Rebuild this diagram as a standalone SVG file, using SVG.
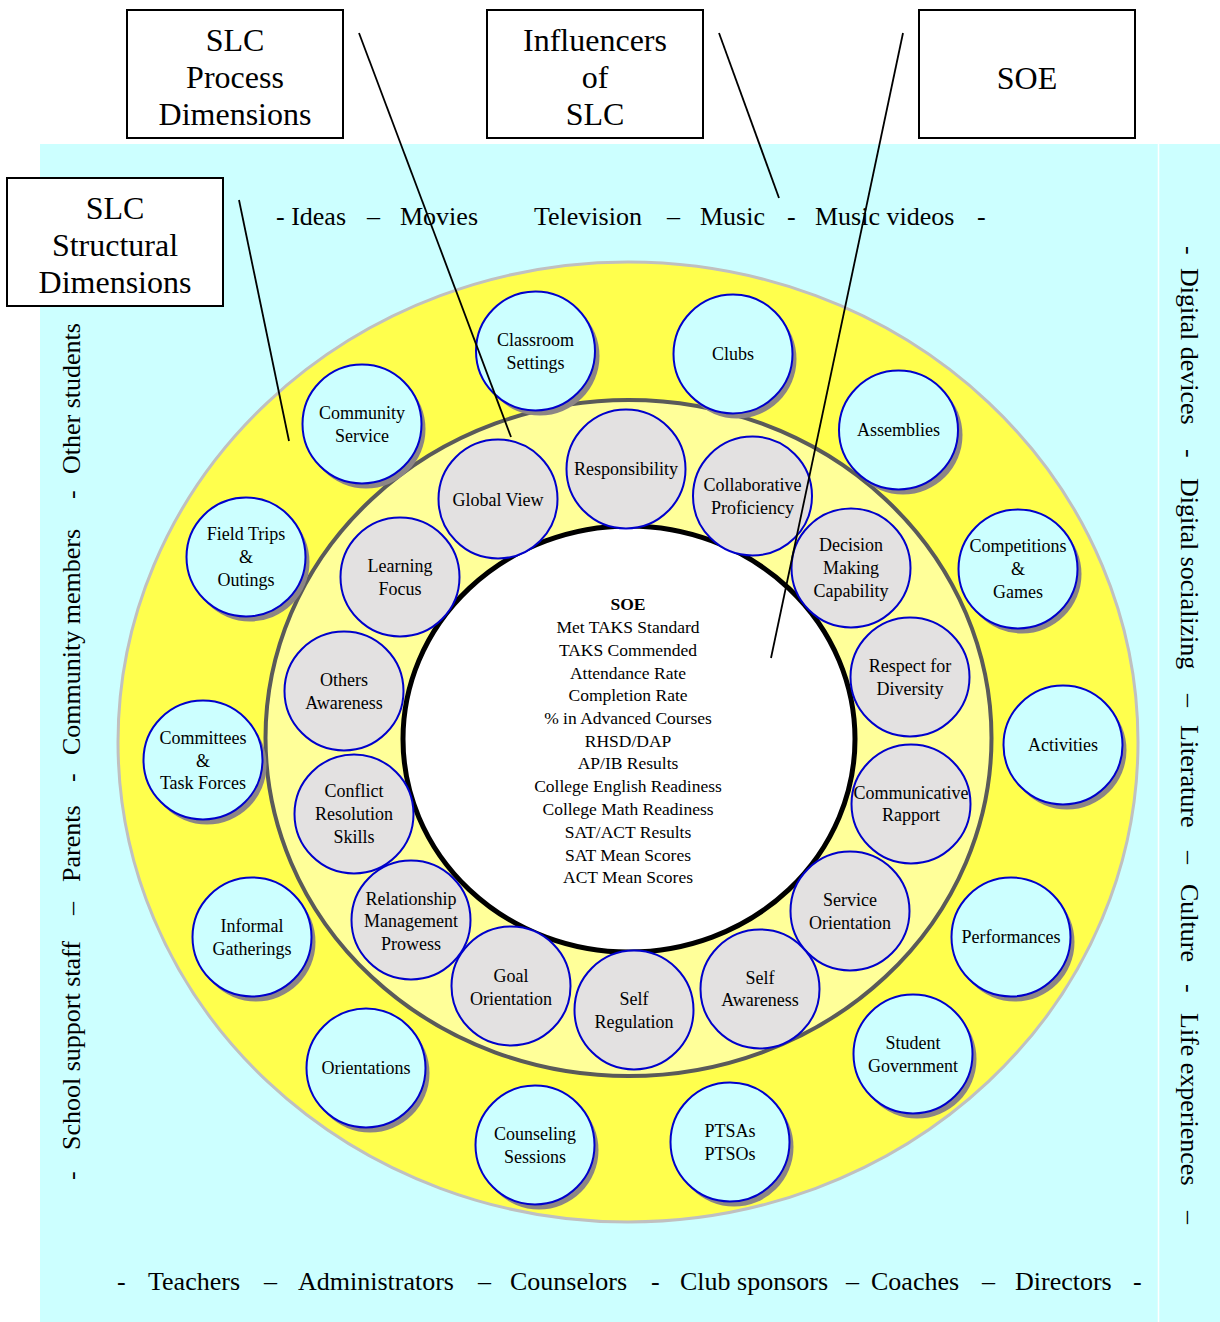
<svg xmlns="http://www.w3.org/2000/svg" width="1220" height="1322" viewBox="0 0 1220 1322" font-family="'Liberation Serif', 'Times New Roman', Times, serif">
<style>
text{font-family:'Liberation Serif','Times New Roman',Times,serif;fill:#000}
.big{font-size:26px}
.box{fill:#fff;stroke:#000;stroke-width:2}
.bt{font-size:32px;text-anchor:middle}
.oc{fill:#ccffff;stroke:#0000cc;stroke-width:2}
.ic{fill:#e3e1e1;stroke:#0000cc;stroke-width:2}
.sh{fill:#8c8585}
.ct{font-size:18px;text-anchor:middle}
.soe{font-size:17.5px;text-anchor:middle}
.conn{stroke:#000;stroke-width:1.8;fill:none}
</style>
<rect x="0" y="0" width="1220" height="1322" fill="#fff"/>
<rect x="40" y="144" width="1180" height="1178" fill="#ccffff"/>
<line x1="1158.5" y1="144" x2="1158.5" y2="1322" stroke="#fff" stroke-width="1.5"/>

<g id="rings">
<ellipse cx="628" cy="742" rx="510" ry="480" fill="#ffff4d" stroke="#c0c0c0" stroke-width="3"/>
<ellipse cx="628.5" cy="738" rx="363" ry="338" fill="#ffff99" stroke="#5a5a5a" stroke-width="4"/>
<ellipse cx="629" cy="739" rx="226" ry="213" fill="#fff" stroke="#000" stroke-width="5"/>
</g>

<g id="labels-influencers">
<text class="big" y="225"><tspan x="276">- Ideas</tspan><tspan x="367">–</tspan><tspan x="400">Movies</tspan><tspan x="534">Television</tspan><tspan x="667">–</tspan><tspan x="700">Music</tspan><tspan x="787">-</tspan><tspan x="815">Music videos</tspan><tspan x="977">-</tspan></text>
<text class="big" y="1290"><tspan x="117">-</tspan><tspan x="148">Teachers</tspan><tspan x="264">–</tspan><tspan x="298">Administrators</tspan><tspan x="478">–</tspan><tspan x="510">Counselors</tspan><tspan x="651">-</tspan><tspan x="680">Club sponsors</tspan><tspan x="846">–</tspan><tspan x="871">Coaches</tspan><tspan x="982">–</tspan><tspan x="1015">Directors</tspan><tspan x="1133">-</tspan></text>
<text class="big" transform="rotate(-90)" y="80"><tspan x="-1180">-</tspan><tspan x="-1150">School support staff</tspan><tspan x="-915">–</tspan><tspan x="-882">Parents</tspan><tspan x="-782">-</tspan><tspan x="-755">Community members</tspan><tspan x="-499">-</tspan><tspan x="-474">Other students</tspan></text>
<text class="big" transform="rotate(90)" y="-1181"><tspan x="246">-</tspan><tspan x="268">Digital devices</tspan><tspan x="449">-</tspan><tspan x="478">Digital socializing</tspan><tspan x="694">–</tspan><tspan x="725">Literature</tspan><tspan x="851">–</tspan><tspan x="884">Culture</tspan><tspan x="984">-</tspan><tspan x="1013">Life experiences</tspan><tspan x="1211">–</tspan></text>
</g>

<g id="structural-nodes">
<g id="n-classroom"><circle class="sh" cx="540" cy="356" r="59.5"/><circle class="oc" cx="535.5" cy="351" r="59.5"/><text class="ct"><tspan x="535.5" y="346">Classroom</tspan><tspan x="535.5" y="369">Settings</tspan></text></g>
<g id="n-clubs"><circle class="sh" cx="737" cy="359" r="59.5"/><circle class="oc" cx="733" cy="354" r="59.5"/><text class="ct" x="733" y="360">Clubs</text></g>
<g id="n-assemblies"><circle class="sh" cx="903" cy="435" r="59.5"/><circle class="oc" cx="898.5" cy="430" r="59.5"/><text class="ct" x="898.5" y="436">Assemblies</text></g>
<g id="n-competitions"><circle class="sh" cx="1022" cy="574" r="59.5"/><circle class="oc" cx="1018" cy="569" r="59.5"/><text class="ct"><tspan x="1018" y="552">Competitions</tspan><tspan x="1018" y="575">&amp;</tspan><tspan x="1018" y="598">Games</tspan></text></g>
<g id="n-activities"><circle class="sh" cx="1067" cy="750" r="59.5"/><circle class="oc" cx="1063" cy="745" r="59.5"/><text class="ct" x="1063" y="751">Activities</text></g>
<g id="n-performances"><circle class="sh" cx="1015" cy="942" r="59.5"/><circle class="oc" cx="1011" cy="937" r="59.5"/><text class="ct" x="1011" y="943">Performances</text></g>
<g id="n-studentgov"><circle class="sh" cx="917" cy="1059" r="59.5"/><circle class="oc" cx="913" cy="1054" r="59.5"/><text class="ct"><tspan x="913" y="1049">Student</tspan><tspan x="913" y="1072">Government</tspan></text></g>
<g id="n-ptsas"><circle class="sh" cx="734" cy="1147" r="59.5"/><circle class="oc" cx="730" cy="1142" r="59.5"/><text class="ct"><tspan x="730" y="1137">PTSAs</tspan><tspan x="730" y="1160">PTSOs</tspan></text></g>
<g id="n-counseling"><circle class="sh" cx="539" cy="1150" r="59.5"/><circle class="oc" cx="535" cy="1145" r="59.5"/><text class="ct"><tspan x="535" y="1140">Counseling</tspan><tspan x="535" y="1163">Sessions</tspan></text></g>
<g id="n-orientations"><circle class="sh" cx="370" cy="1073" r="59.5"/><circle class="oc" cx="366" cy="1068" r="59.5"/><text class="ct" x="366" y="1074">Orientations</text></g>
<g id="n-informal"><circle class="sh" cx="256" cy="942" r="59.5"/><circle class="oc" cx="252" cy="937" r="59.5"/><text class="ct"><tspan x="252" y="932">Informal</tspan><tspan x="252" y="955">Gatherings</tspan></text></g>
<g id="n-committees"><circle class="sh" cx="207" cy="765" r="59.5"/><circle class="oc" cx="203" cy="760" r="59.5"/><text class="ct"><tspan x="203" y="744">Committees</tspan><tspan x="203" y="767">&amp;</tspan><tspan x="203" y="789">Task Forces</tspan></text></g>
<g id="n-fieldtrips"><circle class="sh" cx="250" cy="562" r="59.5"/><circle class="oc" cx="246" cy="557" r="59.5"/><text class="ct"><tspan x="246" y="540">Field Trips</tspan><tspan x="246" y="563">&amp;</tspan><tspan x="246" y="586">Outings</tspan></text></g>
<g id="n-community"><circle class="sh" cx="366" cy="429" r="59.5"/><circle class="oc" cx="362" cy="424" r="59.5"/><text class="ct"><tspan x="362" y="419">Community</tspan><tspan x="362" y="442">Service</tspan></text></g>
</g>

<g id="process-nodes">
<g id="n-responsibility"><circle class="ic" cx="626" cy="469" r="59.5"/><text class="ct" x="626" y="475">Responsibility</text></g>
<g id="n-collaborative"><circle class="ic" cx="752.5" cy="496" r="59.5"/><text class="ct"><tspan x="752.5" y="491">Collaborative</tspan><tspan x="752.5" y="514">Proficiency</tspan></text></g>
<g id="n-decision"><circle class="ic" cx="851" cy="568" r="59.5"/><text class="ct"><tspan x="851" y="551">Decision</tspan><tspan x="851" y="574">Making</tspan><tspan x="851" y="597">Capability</tspan></text></g>
<g id="n-respect"><circle class="ic" cx="910" cy="677" r="59.5"/><text class="ct"><tspan x="910" y="672">Respect for</tspan><tspan x="910" y="695">Diversity</tspan></text></g>
<g id="n-communicative"><circle class="ic" cx="911" cy="804" r="59.5"/><text class="ct"><tspan x="911" y="799">Communicative</tspan><tspan x="911" y="821">Rapport</tspan></text></g>
<g id="n-service"><circle class="ic" cx="850" cy="911" r="59.5"/><text class="ct"><tspan x="850" y="906">Service</tspan><tspan x="850" y="929">Orientation</tspan></text></g>
<g id="n-selfaware"><circle class="ic" cx="760" cy="989" r="59.5"/><text class="ct"><tspan x="760" y="984">Self</tspan><tspan x="760" y="1006">Awareness</tspan></text></g>
<g id="n-selfreg"><circle class="ic" cx="634" cy="1010" r="59.5"/><text class="ct"><tspan x="634" y="1005">Self</tspan><tspan x="634" y="1028">Regulation</tspan></text></g>
<g id="n-goal"><circle class="ic" cx="511" cy="986" r="59.5"/><text class="ct"><tspan x="511" y="982">Goal</tspan><tspan x="511" y="1005">Orientation</tspan></text></g>
<g id="n-relationship"><circle class="ic" cx="411" cy="920" r="59.5"/><text class="ct"><tspan x="411" y="905">Relationship</tspan><tspan x="411" y="927">Management</tspan><tspan x="411" y="950">Prowess</tspan></text></g>
<g id="n-conflict"><circle class="ic" cx="354" cy="814" r="59.5"/><text class="ct"><tspan x="354" y="797">Conflict</tspan><tspan x="354" y="820">Resolution</tspan><tspan x="354" y="843">Skills</tspan></text></g>
<g id="n-others"><circle class="ic" cx="344" cy="691" r="59.5"/><text class="ct"><tspan x="344" y="686">Others</tspan><tspan x="344" y="709">Awareness</tspan></text></g>
<g id="n-learning"><circle class="ic" cx="400" cy="577" r="59.5"/><text class="ct"><tspan x="400" y="572">Learning</tspan><tspan x="400" y="595">Focus</tspan></text></g>
<g id="n-global"><circle class="ic" cx="498" cy="499" r="59.5"/><text class="ct" x="498" y="506">Global View</text></g>
</g>

<g id="n-soe-center">
<text class="soe"><tspan x="628" y="610" font-weight="bold">SOE</tspan><tspan x="628" y="633">Met TAKS Standard</tspan><tspan x="628" y="656">TAKS Commended</tspan><tspan x="628" y="679">Attendance Rate</tspan><tspan x="628" y="701">Completion Rate</tspan><tspan x="628" y="724">% in Advanced Courses</tspan><tspan x="628" y="747">RHSD/DAP</tspan><tspan x="628" y="769">AP/IB Results</tspan><tspan x="628" y="792">College English Readiness</tspan><tspan x="628" y="815">College Math Readiness</tspan><tspan x="628" y="838">SAT/ACT Results</tspan><tspan x="628" y="861">SAT Mean Scores</tspan><tspan x="628" y="883">ACT Mean Scores</tspan></text>
</g>

<g id="callouts">
<g id="b-process"><rect class="box" x="127" y="10" width="216" height="128"/><text class="bt"><tspan x="235" y="51">SLC</tspan><tspan x="235" y="88">Process</tspan><tspan x="235" y="125">Dimensions</tspan></text></g>
<g id="b-influencers"><rect class="box" x="487" y="10" width="216" height="128"/><text class="bt"><tspan x="595" y="51">Influencers</tspan><tspan x="595" y="88">of</tspan><tspan x="595" y="125">SLC</tspan></text></g>
<g id="b-soe"><rect class="box" x="919" y="10" width="216" height="128"/><text class="bt" x="1027" y="89">SOE</text></g>
<g id="b-structural"><rect class="box" x="7" y="178" width="216" height="128"/><text class="bt"><tspan x="115" y="219">SLC</tspan><tspan x="115" y="256">Structural</tspan><tspan x="115" y="293">Dimensions</tspan></text></g>
</g>

<g id="connectors">
<line class="conn" x1="239" y1="200" x2="289" y2="441"/>
<line class="conn" x1="359" y1="33" x2="511" y2="437"/>
<line class="conn" x1="719" y1="33" x2="779" y2="198"/>
<line class="conn" x1="903" y1="33" x2="771" y2="658"/>
</g>
</svg>
